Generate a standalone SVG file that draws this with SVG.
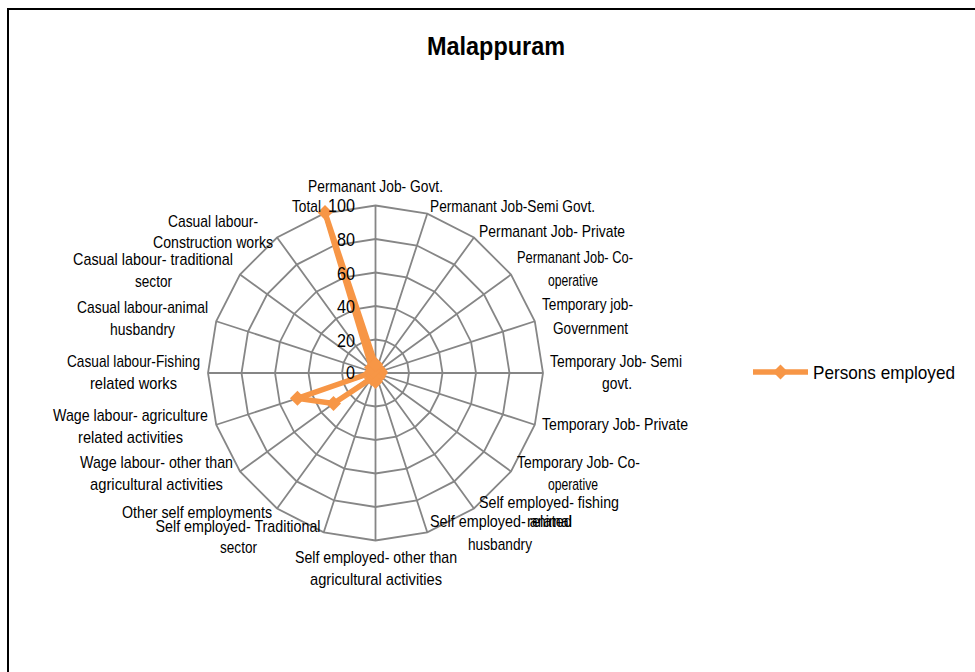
<svg xmlns="http://www.w3.org/2000/svg" width="975" height="672" viewBox="0 0 975 672">
<defs>
<style>
.lbl{font-family:"Liberation Sans","DejaVu Sans",sans-serif;font-size:17px;fill:#000;text-anchor:middle}
.ax{font-family:"Liberation Sans","DejaVu Sans",sans-serif;font-size:19px;fill:#000;text-anchor:end}
.grid{fill:none;stroke:#868686;stroke-width:1.8;stroke-linejoin:miter}
.series{fill:none;stroke:#F79646;stroke-width:5.5;stroke-linejoin:round}
</style>
<marker id="dia" markerUnits="userSpaceOnUse" markerWidth="16" markerHeight="16" refX="8" refY="8" viewBox="0 0 16 16" overflow="visible">
<polygon points="8,0.5 15.5,8 8,15.5 0.5,8" fill="#F79646"/>
</marker>
</defs>
<rect width="975" height="672" fill="#fff"/>
<path d="M8,672 V9 H975" fill="none" stroke="#000" stroke-width="2"/>
<text x="496" y="55" font-family="'Liberation Sans','DejaVu Sans',sans-serif" font-size="26" font-weight="bold" text-anchor="middle" textLength="138" lengthAdjust="spacingAndGlyphs">Malappuram</text>
<g id="grid" transform="translate(375.5,373)">
<polygon class="grid" points="0,-33.5 10.35,-31.86 19.69,-27.1 27.1,-19.69 31.86,-10.35 33.5,0 31.86,10.35 27.1,19.69 19.69,27.1 10.35,31.86 0,33.5 -10.35,31.86 -19.69,27.1 -27.1,19.69 -31.86,10.35 -33.5,0 -31.86,-10.35 -27.1,-19.69 -19.69,-27.1 -10.35,-31.86"/>
<polygon class="grid" points="0,-67 20.7,-63.72 39.38,-54.2 54.2,-39.38 63.72,-20.7 67,0 63.72,20.7 54.2,39.38 39.38,54.2 20.7,63.72 0,67 -20.7,63.72 -39.38,54.2 -54.2,39.38 -63.72,20.7 -67,0 -63.72,-20.7 -54.2,-39.38 -39.38,-54.2 -20.7,-63.72"/>
<polygon class="grid" points="0,-100.5 31.06,-95.58 59.07,-81.31 81.31,-59.07 95.58,-31.06 100.5,0 95.58,31.06 81.31,59.07 59.07,81.31 31.06,95.58 0,100.5 -31.06,95.58 -59.07,81.31 -81.31,59.07 -95.58,31.06 -100.5,0 -95.58,-31.06 -81.31,-59.07 -59.07,-81.31 -31.06,-95.58"/>
<polygon class="grid" points="0,-134 41.41,-127.44 78.76,-108.41 108.41,-78.76 127.44,-41.41 134,0 127.44,41.41 108.41,78.76 78.76,108.41 41.41,127.44 0,134 -41.41,127.44 -78.76,108.41 -108.41,78.76 -127.44,41.41 -134,0 -127.44,-41.41 -108.41,-78.76 -78.76,-108.41 -41.41,-127.44"/>
<polygon class="grid" points="0,-167.5 51.76,-159.3 98.45,-135.51 135.51,-98.45 159.3,-51.76 167.5,0 159.3,51.76 135.51,98.45 98.45,135.51 51.76,159.3 0,167.5 -51.76,159.3 -98.45,135.51 -135.51,98.45 -159.3,51.76 -167.5,0 -159.3,-51.76 -135.51,-98.45 -98.45,-135.51 -51.76,-159.3"/>
<path class="grid" d="M0,0L0,-167.5M0,0L51.76,-159.3M0,0L98.45,-135.51M0,0L135.51,-98.45M0,0L159.3,-51.76M0,0L167.5,0M0,0L159.3,51.76M0,0L135.51,98.45M0,0L98.45,135.51M0,0L51.76,159.3M0,0L0,167.5M0,0L-51.76,159.3M0,0L-98.45,135.51M0,0L-135.51,98.45M0,0L-159.3,51.76M0,0L-167.5,0M0,0L-159.3,-51.76M0,0L-135.51,-98.45M0,0L-98.45,-135.51M0,0L-51.76,-159.3"/>
</g>
<g id="series" transform="translate(375.5,373)">
<polygon class="series" marker-start="url(#dia)" marker-mid="url(#dia)" marker-end="url(#dia)" points="0,-8.38 1.55,-4.78 2.95,-4.07 2.71,-1.97 4.78,-1.55 5.03,0 3.19,1.04 2.71,1.97 2.95,4.07 1.55,4.78 0,8.38 -1.04,3.19 -3.94,5.42 -42.01,30.52 -78.06,25.36 -5.03,0 -3.19,-1.04 -2.71,-1.97 -3.94,-5.42 -50.5,-160.5"/>
</g>
<g id="axis-labels">
<text class="ax" x="355" y="212" textLength="27" lengthAdjust="spacingAndGlyphs">100</text>
<text class="ax" x="355" y="246" textLength="18" lengthAdjust="spacingAndGlyphs">80</text>
<text class="ax" x="355" y="279.5" textLength="18" lengthAdjust="spacingAndGlyphs">60</text>
<text class="ax" x="355" y="313" textLength="18" lengthAdjust="spacingAndGlyphs">40</text>
<text class="ax" x="355" y="346.5" textLength="18" lengthAdjust="spacingAndGlyphs">20</text>
<text class="ax" x="355" y="379" textLength="9" lengthAdjust="spacingAndGlyphs">0</text>
</g>
<g id="category-labels">
<text class="lbl" x="375.5" y="192" textLength="135" lengthAdjust="spacingAndGlyphs">Permanant Job- Govt.</text>
<text class="lbl" x="512.5" y="212" textLength="165" lengthAdjust="spacingAndGlyphs">Permanant Job-Semi Govt.</text>
<text class="lbl" x="552" y="237" textLength="146" lengthAdjust="spacingAndGlyphs">Permanant Job- Private</text>
<text class="lbl" x="575" y="263" textLength="116" lengthAdjust="spacingAndGlyphs">Permanant Job- Co-</text>
<text class="lbl" x="573" y="286" textLength="50" lengthAdjust="spacingAndGlyphs">operative</text>
<text class="lbl" x="587.5" y="310" textLength="91" lengthAdjust="spacingAndGlyphs">Temporary job-</text>
<text class="lbl" x="590.5" y="334" textLength="75" lengthAdjust="spacingAndGlyphs">Government</text>
<text class="lbl" x="616" y="367" textLength="132" lengthAdjust="spacingAndGlyphs">Temporary Job- Semi</text>
<text class="lbl" x="617" y="389" textLength="30" lengthAdjust="spacingAndGlyphs">govt.</text>
<text class="lbl" x="615" y="430" textLength="146" lengthAdjust="spacingAndGlyphs">Temporary Job- Private</text>
<text class="lbl" x="578.5" y="468" textLength="123" lengthAdjust="spacingAndGlyphs">Temporary Job- Co-</text>
<text class="lbl" x="573" y="490" textLength="50" lengthAdjust="spacingAndGlyphs">operative</text>
<text class="lbl" x="549" y="508" textLength="140" lengthAdjust="spacingAndGlyphs">Self employed- fishing</text>
<text class="lbl" x="549.5" y="527" textLength="45" lengthAdjust="spacingAndGlyphs">related</text>
<text class="lbl" x="501" y="527" textLength="142" lengthAdjust="spacingAndGlyphs">Self employed- animal</text>
<text class="lbl" x="500" y="550" textLength="64" lengthAdjust="spacingAndGlyphs">husbandry</text>
<text class="lbl" x="376" y="563" textLength="162" lengthAdjust="spacingAndGlyphs">Self employed- other than</text>
<text class="lbl" x="376" y="585" textLength="132" lengthAdjust="spacingAndGlyphs">agricultural activities</text>
<text class="lbl" x="238" y="532" textLength="165" lengthAdjust="spacingAndGlyphs">Self employed- Traditional</text>
<text class="lbl" x="238.5" y="553" textLength="37" lengthAdjust="spacingAndGlyphs">sector</text>
<text class="lbl" x="197" y="518" textLength="150" lengthAdjust="spacingAndGlyphs">Other self employments</text>
<text class="lbl" x="156.5" y="468" textLength="153" lengthAdjust="spacingAndGlyphs">Wage labour- other than</text>
<text class="lbl" x="156.5" y="490" textLength="133" lengthAdjust="spacingAndGlyphs">agricultural activities</text>
<text class="lbl" x="130.5" y="421" textLength="155" lengthAdjust="spacingAndGlyphs">Wage labour- agriculture</text>
<text class="lbl" x="130.5" y="443" textLength="105" lengthAdjust="spacingAndGlyphs">related activities</text>
<text class="lbl" x="133.5" y="367" textLength="133" lengthAdjust="spacingAndGlyphs">Casual labour-Fishing</text>
<text class="lbl" x="133.5" y="389" textLength="87" lengthAdjust="spacingAndGlyphs">related works</text>
<text class="lbl" x="142.5" y="313" textLength="131" lengthAdjust="spacingAndGlyphs">Casual labour-animal</text>
<text class="lbl" x="142.5" y="335" textLength="65" lengthAdjust="spacingAndGlyphs">husbandry</text>
<text class="lbl" x="153" y="265" textLength="160" lengthAdjust="spacingAndGlyphs">Casual labour- traditional</text>
<text class="lbl" x="153.5" y="287" textLength="37" lengthAdjust="spacingAndGlyphs">sector</text>
<text class="lbl" x="213" y="227" textLength="90" lengthAdjust="spacingAndGlyphs">Casual labour-</text>
<text class="lbl" x="213" y="248" textLength="120" lengthAdjust="spacingAndGlyphs">Construction works</text>
<text class="lbl" x="306.5" y="212" textLength="29" lengthAdjust="spacingAndGlyphs">Total</text>
</g>
<g id="legend">
<line x1="753" y1="372" x2="808" y2="372" stroke="#F79646" stroke-width="5.5"/>
<polygon points="780.5,364.5 788,372 780.5,379.5 773,372" fill="#F79646"/>
<text x="813" y="379" font-family="'Liberation Sans','DejaVu Sans',sans-serif" font-size="19" textLength="142" lengthAdjust="spacingAndGlyphs">Persons employed</text>
</g>
</svg>
